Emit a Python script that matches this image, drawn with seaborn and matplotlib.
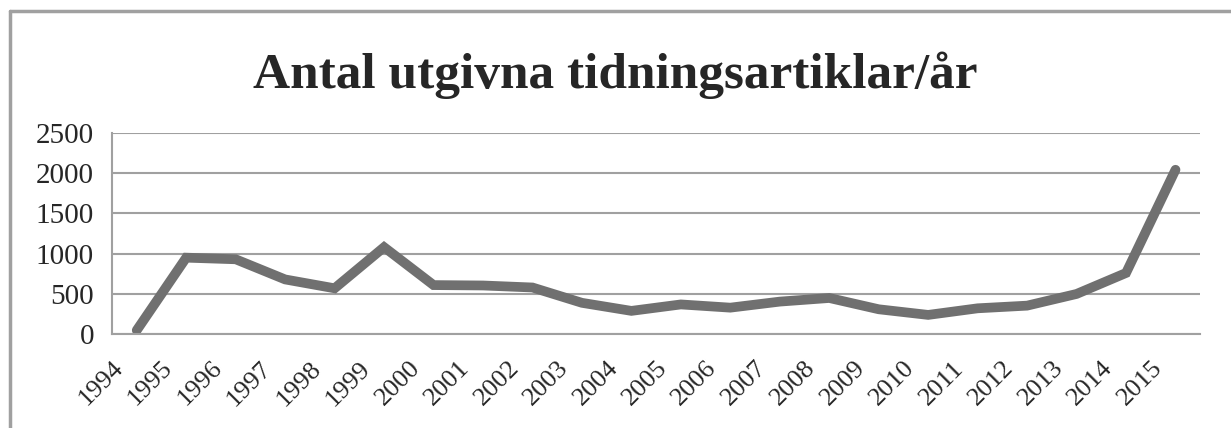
import matplotlib
matplotlib.use("Agg")
import matplotlib.pyplot as plt
import matplotlib.transforms as mtransforms
from matplotlib.lines import Line2D
import seaborn as sns
import pandas as pd
import numpy as np

# data
years = [str(y) for y in range(1994, 2016)]
articles = [50, 950, 930, 680, 570, 1080, 610, 605, 580, 390, 290,
            370, 330, 405, 450, 310, 240, 322, 355, 500, 760, 2040]
y_ticks = [0, 500, 1000, 1500, 2000, 2500]

df = pd.DataFrame({"pos": np.arange(len(years)), "year": years, "antal": articles})

sns.set_style("white")
plt.rcParams["font.family"] = ["Liberation Serif", "DejaVu Serif"]

grey = "#a0a0a0"
fig = plt.figure(figsize=(12.31, 4.28), dpi=100)
ax = fig.add_axes([0.091, 0.219, 0.884, 0.471])

sns.lineplot(data=df, x="pos", y="antal", ax=ax, color="#707070",
             linewidth=7, solid_capstyle="round", solid_joinstyle="miter")

ax.set_xlim(-0.5, len(years) - 0.5)
ax.set_ylim(0, 2500)
ax.set_yticks(y_ticks)
ax.set_yticklabels([str(v) for v in y_ticks], fontsize=21)
ax.yaxis.grid(True, color=grey, linewidth=1.5)
ax.set_axisbelow(True)

# category labels centred, tick marks on the boundaries
ax.set_xticks(df["pos"])
ax.set_xticklabels(years, rotation=45, ha="right", va="center",
                   rotation_mode="anchor", fontsize=19)
ax.tick_params(axis="x", which="major", length=0, pad=22)
ax.set_xticks(np.arange(-0.5, len(years)), minor=True)
ax.tick_params(axis="x", which="minor", length=7, width=1.5, color=grey, direction="out")
ax.tick_params(axis="y", length=8, width=1.5, color=grey, direction="out", pad=5)
shift = mtransforms.ScaledTranslation(-0.17, 0, fig.dpi_scale_trans)
for lab in ax.get_xticklabels():
    lab.set_transform(lab.get_transform() + shift)

for s in ["top", "right"]:
    ax.spines[s].set_visible(False)
for s in ["left", "bottom"]:
    ax.spines[s].set_color(grey)
    ax.spines[s].set_linewidth(1.5)

ax.set_xlabel("")
ax.set_ylabel("")

fig.text(0.5, 0.825, "Antal utgivna tidningsartiklar/år", ha="center", va="center",
         fontsize=37, fontweight="bold")

# outer chart-area border (left and top only visible)
fig.add_artist(Line2D([0.0085, 0.0085], [0, 0.974], color=grey, linewidth=2.5,
                      transform=fig.transFigure))
fig.add_artist(Line2D([0.0085, 1], [0.974, 0.974], color=grey, linewidth=2.5,
                      transform=fig.transFigure))

fig.savefig("out.png", dpi=100)
